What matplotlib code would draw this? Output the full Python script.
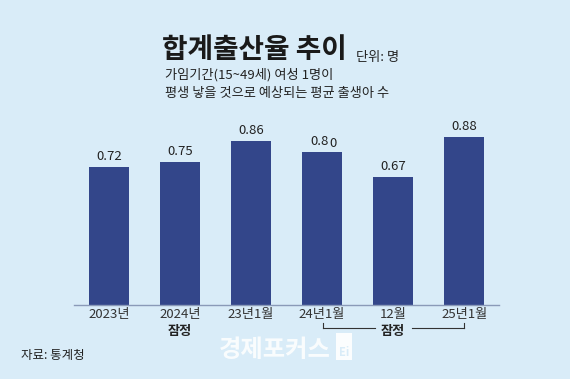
import matplotlib
matplotlib.use("Agg")
import matplotlib.pyplot as plt
from matplotlib.patches import Rectangle

plt.rcParams['font.family'] = ['Noto Sans CJK KR', 'DejaVu Sans']

categories = ["2023년", "2024년", "23년1월", "24년1월", "12월", "25년1월"]
values = [0.72, 0.75, 0.86, 0.80, 0.67, 0.88]
value_labels = ["0.72", "0.75", "0.86", "0.80", "0.67", "0.88"]

bg = "#d9ecf8"
bar_color = "#33468a"

fig = plt.figure(figsize=(5.7, 3.79), dpi=100, facecolor=bg)
ax = fig.add_axes([74/570, 1 - 305/379, 425/570, 191/379], facecolor=bg)

x = list(range(len(categories)))
ax.bar(x, values, width=0.56, color=bar_color)
ax.set_xlim(-0.49, 5.49)
ax.set_ylim(0, 1.0)
for s in ["top", "right", "left"]:
    ax.spines[s].set_visible(False)
ax.spines["bottom"].set_color("#8a9ab8")
ax.spines["bottom"].set_linewidth(1.0)
ax.set_yticks([])
ax.set_xticks(x)
ax.set_xticklabels(categories, fontsize=9.5, color="#333333")
ax.tick_params(axis="x", length=0, pad=2)

for xi, v, lab in zip(x, values, value_labels):
    if lab == "0.80":
        ax.text(xi - 0.03, v + 0.022, "0.8", ha="center", va="bottom", fontsize=9.5, color="#222222")
        ax.text(xi + 0.16, v + 0.012, "0", ha="center", va="bottom", fontsize=9.5, color="#222222")
    else:
        ax.text(xi, v + 0.022, lab, ha="center", va="bottom", fontsize=9.5, color="#222222")

# 잠정 labels
fig.text(180/570, 1 - 331/379, "잠정", ha="center", va="center", fontsize=9.5, fontweight="bold", color="#222222")
fig.text(393/570, 1 - 331/379, "잠정", ha="center", va="center", fontsize=9.5, fontweight="bold", color="#222222")
# bracket lines
yl = 1 - 328/379
ytop = 1 - 323/379
lc = "#333333"
fig.add_artist(plt.Line2D([323/570, 323/570], [ytop, yl], color=lc, lw=0.8))
fig.add_artist(plt.Line2D([323/570, 375/570], [yl, yl], color=lc, lw=0.8))
fig.add_artist(plt.Line2D([412/570, 464/570], [yl, yl], color=lc, lw=0.8))
fig.add_artist(plt.Line2D([464/570, 464/570], [ytop, yl], color=lc, lw=0.8))

# titles
fig.text(162/570, 1 - 50/379, "합계출산율 추이", ha="left", va="center", fontsize=20, fontweight="bold", color="#1a1a1a")
fig.text(356/570, 1 - 57/379, "단위: 명", ha="left", va="center", fontsize=9.5, color="#222222")
fig.text(165/570, 1 - 75/379, "가임기간(15~49세) 여성 1명이", ha="left", va="center", fontsize=9.5, color="#222222")
fig.text(165/570, 1 - 93/379, "평생 낳을 것으로 예상되는 평균 출생아 수", ha="left", va="center", fontsize=9.5, color="#222222")

fig.text(21/570, 1 - 356/379, "자료: 통계청", ha="left", va="center", fontsize=9, color="#222222")

# watermark
fig.text(219/570, 1 - 350/379, "경제포커스", ha="left", va="center", fontsize=17.5, fontweight="bold", color="white", alpha=0.85)
fig.add_artist(Rectangle((336/570, 1 - 360/379), 16/570, 27/379, transform=fig.transFigure,
                         facecolor="white", edgecolor="none", alpha=0.9))
fig.text(344/570, 1 - 352/379, "Ei", ha="center", va="center", fontsize=8, fontweight="bold", color="#d9ecf8")

fig.savefig("out.png", dpi=100, facecolor=bg)
